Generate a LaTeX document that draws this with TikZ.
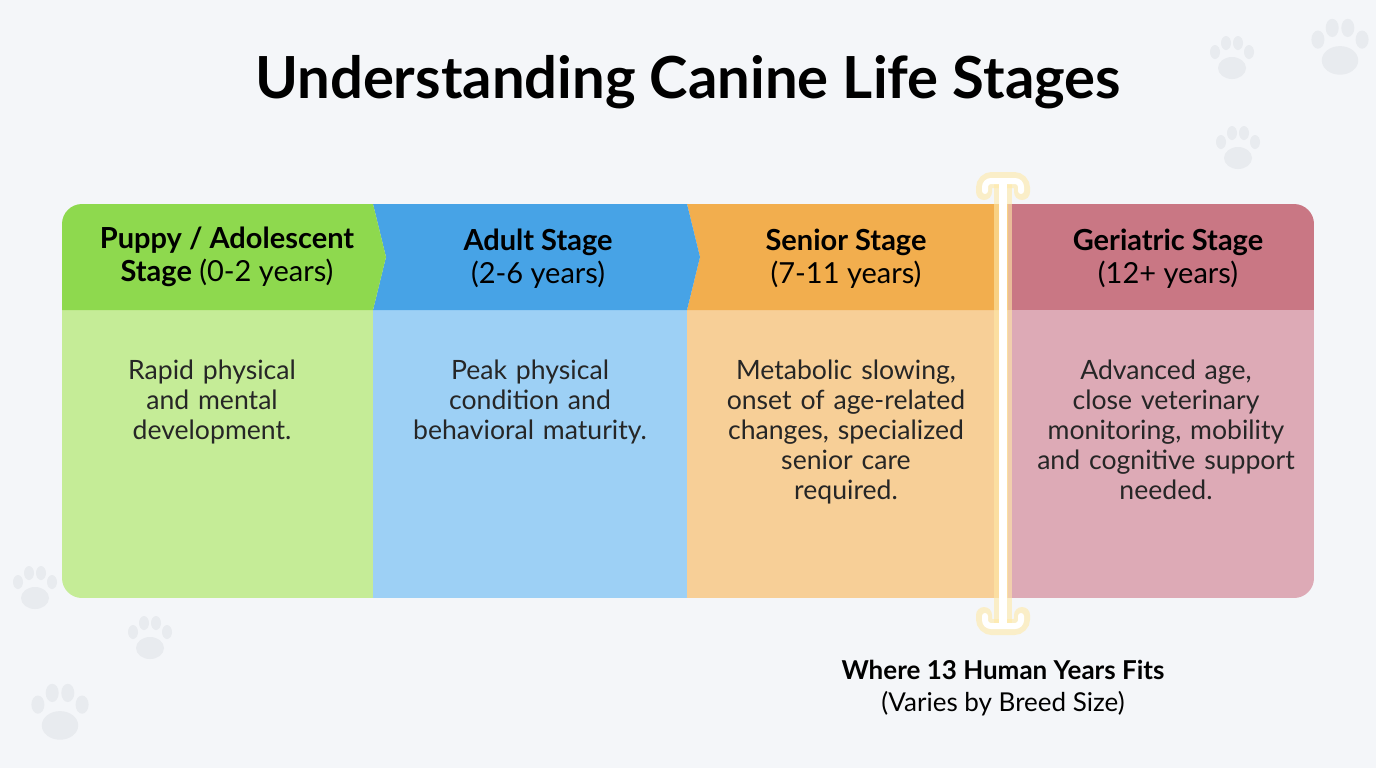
\documentclass[tikz,border=0pt]{standalone}
\usepackage{fontspec}
\setmainfont{Lato}
\usetikzlibrary{positioning}
\definecolor{grhead}{HTML}{8ED94E}
\definecolor{grbody}{HTML}{C5EC97}
\definecolor{blhead}{HTML}{47A3E6}
\definecolor{blbody}{HTML}{9DD0F5}
\definecolor{orhead}{HTML}{F2AE4E}
\definecolor{orbody}{HTML}{F7CF97}
\definecolor{rdhead}{HTML}{C97784}
\definecolor{rdbody}{HTML}{DDAAB6}
\definecolor{bg}{HTML}{F4F6F9}
\definecolor{paw}{HTML}{E8EBEF}
\definecolor{glow}{HTML}{FFE9A8}
\tikzset{
  head/.style={font=\fontsize{14.5}{16.5}\selectfont, align=center, text=black},
  body/.style={font=\fontsize{13.3}{15}\selectfont, align=center, text=black!85, text width=160pt},
}
\newcommand\pawprint[3]{
\begin{scope}[shift={(#1,#2)}, scale=#3]
\fill[paw] (0,8) ellipse (14 and 11);
\fill[paw] (-17,-8) ellipse (5 and 7);
\fill[paw] (-6,-17) ellipse (5 and 7);
\fill[paw] (6,-17) ellipse (5 and 7);
\fill[paw] (17,-8) ellipse (5 and 7);
\end{scope}
}
\begin{document}
\begin{tikzpicture}[x=0.5pt,y=-0.5pt]
\fill[bg] (0,0) rectangle (1376,768);
\useasboundingbox (0,0) rectangle (1376,768);
\pawprint{1340}{50}{1.3}
\pawprint{1232}{60}{1}
\pawprint{1238}{150}{1}
\pawprint{35}{590}{1}
\pawprint{150}{640}{1}
\pawprint{60}{715}{1.3}

\node[font=\fontsize{29}{34}\selectfont\bfseries] (title) at (688,82) {Understanding Canine Life Stages};

% bodies
\begin{scope}
\clip[rounded corners=10] (62,204) rectangle (1314,598);
\fill[grbody] (62,310) rectangle (373,598);
\fill[blbody] (373,310) rectangle (687,598);
\fill[orbody] (687,310) rectangle (1008,598);
\fill[rdbody] (1008,310) rectangle (1314,598);
\fill[rdhead] (1008,204) rectangle (1314,310);
\fill[orhead] (687,204) -- (1008,204) -- (1008,310) -- (687,310) -- (700,257) -- cycle;
\fill[blhead] (373,204) -- (687,204) -- (700,257) -- (687,310) -- (373,310) -- (386,257) -- cycle;
\fill[grhead] (62,204) -- (373,204) -- (386,257) -- (373,310) -- (62,310) -- cycle;
\end{scope}

\node[head] (puppy) at (227,257) {\textbf{Puppy / Adolescent}\\\textbf{Stage} (0-2 years)};
\node[head] (adult) at (538,259) {\textbf{Adult Stage}\\(2-6 years)};
\node[head] (senior) at (846,259) {\textbf{Senior Stage}\\(7-11 years)};
\node[head] (geri) at (1168,259) {\textbf{Geriatric Stage}\\(12+ years)};

\node[body, anchor=north] (puppytxt) at (212,353) {Rapid physical\\and mental\\development.};
\node[body, anchor=north] (adulttxt) at (530,353) {Peak physical\\condition and\\behavioral maturity.};
\node[body, anchor=north] (seniortxt) at (846,353) {Metabolic slowing,\\onset of age-related\\changes, specialized\\senior care\\required.};
\node[body, anchor=north] (geritxt) at (1166,353) {Advanced age,\\close veterinary\\monitoring, mobility\\and cognitive support\\needed.};

% marker
\coordinate (mtop) at (1003,182);
\coordinate (mbot) at (1003,625);
\draw[glow, line width=9pt, opacity=0.6] (mtop) -- (mbot);
\draw[glow, line width=8pt, line cap=round, opacity=0.6, rounded corners=4] (984,192) -- (984,180) -- (1022,180) -- (1022,192);
\draw[glow, line width=8pt, line cap=round, opacity=0.6, rounded corners=4] (984,615) -- (984,627) -- (1022,627) -- (1022,615);
\draw[white, line width=4pt] (mtop) -- (mbot);
\draw[white, line width=3pt, line cap=round, rounded corners=3] (985,191) -- (985,181) -- (1021,181) -- (1021,191);
\draw[white, line width=3pt, line cap=round, rounded corners=3] (985,616) -- (985,626) -- (1021,626) -- (1021,616);

\node[font=\fontsize{13}{16}\selectfont, align=center, below=14pt of mbot] (fits) {\textbf{Where 13 Human Years Fits}\\(Varies by Breed Size)};
\end{tikzpicture}
\end{document}
